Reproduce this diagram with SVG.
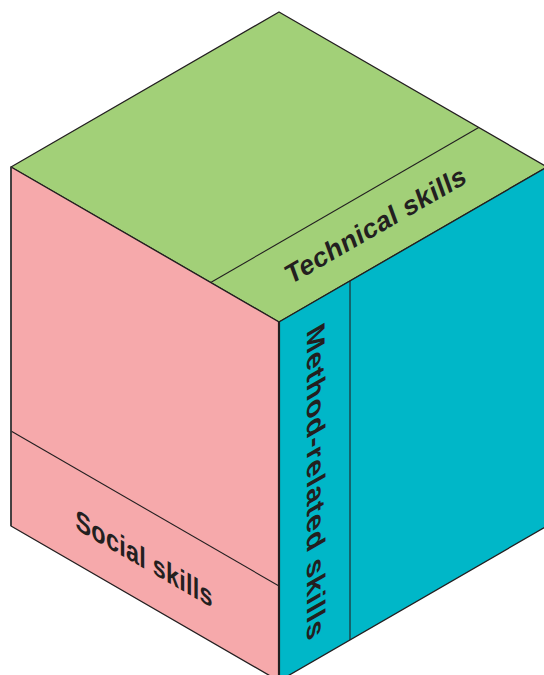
<svg xmlns="http://www.w3.org/2000/svg" width="544" height="675" viewBox="0 0 544 675">
<style>
.edge{stroke:#231F20;stroke-width:1.3;stroke-linejoin:round}
.div{stroke:#231F20;stroke-width:1.1;fill:none}
.lbl{font-family:"Liberation Sans",Arial,Helvetica,sans-serif;font-weight:bold;fill:#231F20}
</style>
<rect width="544" height="675" fill="#ffffff"/>
<g id="top-face">
<polygon class="edge" points="279,12 547,167 279,322 11,167" fill="#A2D078"/>
<line class="div" x1="210.7" y1="282.5" x2="478.7" y2="127.5"/>
<text class="lbl" font-size="27" letter-spacing="0.5" transform="matrix(0.866,-0.5,0.342,0.94,290,285)">Technical skills</text>
</g>
<g id="left-face">
<polygon class="edge" points="11,167 279,322 279,681 11,526" fill="#F6A9AB"/>
<line class="div" x1="11" y1="431" x2="279" y2="586"/>
<text class="lbl" font-size="27" letter-spacing="0.3" transform="matrix(0.866,0.5,0,1.08,75.5,529)">Social skills</text>
</g>
<g id="right-face">
<polygon class="edge" points="279,322 547,167 547,526 279,681" fill="#00B7C8"/>
<line class="div" x1="350" y1="281" x2="350" y2="640"/>
<text class="lbl" font-size="29.5" letter-spacing="0.9" transform="matrix(0,1,-0.866,0.5,306.5,331)">Method-related skills</text>
</g>
<line x1="279" y1="322" x2="279" y2="681" stroke="#231F20" stroke-width="2.2"/>
<line x1="11" y1="167" x2="11" y2="526" stroke="#3a3a3a" stroke-width="1.6"/>
</svg>
